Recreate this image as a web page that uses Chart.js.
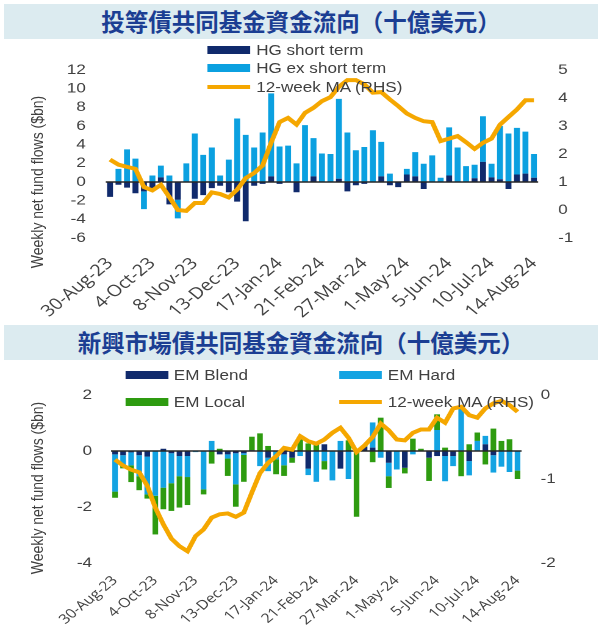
<!DOCTYPE html>
<html>
<head>
<meta charset="utf-8">
<script src="https://cdn.jsdelivr.net/npm/chart.js@4.4.1/dist/chart.umd.min.js"></script>
<style>
  body { margin: 0; background: #fff; }
  #page { position: relative; width: 602px; height: 626px; overflow: hidden; color: #404040;
          font-family: "Liberation Sans", Arial, sans-serif; }
  .band { position: absolute; left: 4px; width: 594px; height: 35px; background: #dcebf0; color: #1b3e93;
          font: bold 23.5px "Noto Sans CJK TC", sans-serif; text-align: center; line-height: 35px; }
  /* the source charts are stretched sideways, so draw narrower and scale up */
  .stretch { position: absolute; left: 0; width: 493.4px; transform: scaleX(1.22); transform-origin: 0 0; }
  .stretch canvas { position: absolute; left: 0; top: 0; }
  .ytitle { position: absolute; font-size: 14px; white-space: nowrap; transform: translate(-50%, -50%) rotate(-90deg); }
  .legend { position: absolute; font-size: 14px; }
  .legend .item { display: flex; align-items: center; }
  .legend .sw { display: inline-block; width: 35px; margin-right: 5px; }
  #legTop { left: 170px; top: 40.5px; }
  #legTop .item { height: 18.5px; }
  #legBot { left: 102.5px; top: 362px; display: grid; grid-template-columns: 175.4px 175.4px; }
  #legBot .item { height: 26.5px; }
</style>
</head>
<body>
<div id="page">
  <div class="band" style="top:4px">投等債共同基金資金流向（十億美元）</div>
  <div class="stretch" style="top:40px;height:282px">
    <canvas id="hg"></canvas>
  </div>
  <div class="stretch" style="top:0;height:330px;pointer-events:none">
    <div class="ytitle" style="left:30px;top:182px">Weekly net fund flows ($bn)</div>
    <div class="legend" id="legTop"></div>
  </div>

  <div class="band" style="top:325px">新興市場債共同基金資金流向（十億美元）</div>
  <div class="stretch" style="top:360px;height:266px">
    <canvas id="em"></canvas>
  </div>
  <div class="stretch" style="top:0;height:626px;pointer-events:none">
    <div class="ytitle" style="left:30px;top:488px">Weekly net fund flows ($bn)</div>
    <div class="legend" id="legBot"></div>
  </div>
</div>
<script>
const weeks = ["30-Aug-23","6-Sep-23","13-Sep-23","20-Sep-23","27-Sep-23","4-Oct-23","11-Oct-23","18-Oct-23",
  "25-Oct-23","1-Nov-23","8-Nov-23","15-Nov-23","22-Nov-23","29-Nov-23","6-Dec-23","13-Dec-23","20-Dec-23",
  "27-Dec-23","3-Jan-24","10-Jan-24","17-Jan-24","24-Jan-24","31-Jan-24","7-Feb-24","14-Feb-24","21-Feb-24",
  "28-Feb-24","6-Mar-24","13-Mar-24","20-Mar-24","27-Mar-24","3-Apr-24","10-Apr-24","17-Apr-24","24-Apr-24",
  "1-May-24","8-May-24","15-May-24","22-May-24","29-May-24","5-Jun-24","12-Jun-24","19-Jun-24","26-Jun-24",
  "3-Jul-24","10-Jul-24","17-Jul-24","24-Jul-24","31-Jul-24","7-Aug-24","14-Aug-24"];

// investment grade ($bn, weekly)
const hgShort = [-1.6,-0.3,-0.6,-1.2,-1.0,-0.8,0.5,-2.4,-1.9,0,-1.8,-1.4,-0.65,-0.4,-1.1,-2.1,-4.2,
  -0.4,-0.2,0.6,-0.2,0,-1.1,0,0.6,0,0,0.35,-1.0,-0.35,-0.2,0,0.6,-0.35,-0.55,0.8,0.6,-0.75,0,0,0.7,
  0,0,0.4,2.15,0.5,0.3,-0.75,0.8,0.9,0.45];
const hgExShort = [0,1.4,3.5,2.5,-1.9,0.7,1.25,0.7,-2.0,2.0,5.2,2.9,3.7,0.7,2.4,6.8,5.05,
  3.7,5.3,8.9,3.8,3.9,2.0,6.1,4.1,3.05,3.0,8.55,5.3,3.4,3.75,5.55,3.7,0.9,0,0.6,2.6,1.95,2.85,0.45,5.15,
  3.7,1.7,1.45,4.9,1.45,5.7,5.2,5.0,4.5,2.55];
const hgMA = [1.80,1.62,1.54,1.47,0.82,0.70,0.90,0.46,0.0,-0.03,0.25,0.25,0.63,0.57,0.45,0.73,1.14,
  1.32,1.59,2.40,3.14,3.29,3.05,3.47,3.65,3.89,4.03,4.40,4.64,4.64,4.49,4.19,4.21,3.95,
  3.71,3.45,3.29,3.17,3.14,2.46,2.55,2.64,2.42,2.18,2.40,2.55,3.05,3.32,3.59,3.92,3.92];

// emerging market debt ($bn, weekly)
const emBlend = [-0.12,-0.15,-0.05,-0.15,-0.2,0,0.08,-0.08,-0.18,-0.18,0,0,0,-0.12,-0.12,-0.08,-0.08,
  0.03,0,-0.24,0,-0.12,-0.24,0,-0.63,0,0.24,0,-0.63,0,0,0.15,0.12,0,-0.42,0,-0.6,0,0,-0.24,-0.18,
  -0.18,-0.18,0,-0.36,0,0.24,-0.15,0,0,0];
const emHard = [-1.33,-0.35,-0.46,-0.75,-1.35,-1.6,-1.31,-1.07,-0.72,-0.75,-0.04,-1.37,0.36,0,-0.15,-1.11,-0.06,
  0,-0.54,-0.48,-0.3,-0.39,0,-0.18,-0.23,-1.1,-0.36,-1.05,0.36,-1.0,0,0,0.9,-0.24,-0.48,-0.66,0,-0.12,0,0,0.75,
  -0.9,-0.36,1.6,-0.51,0.36,0.3,-0.62,-0.56,-0.75,-0.7];
const emLocal = [-0.22,-0.12,-0.6,-0.5,-0.15,-1.38,-0.77,-0.99,-1.12,-1.0,0,-0.18,-0.45,0.08,-0.62,-0.8,-0.96,
  0.48,0.63,0.18,-0.53,-0.38,-0.18,0.42,0.27,0.24,-0.3,0,0,0.38,-2.35,0.05,-0.4,1.19,-0.42,0,-0.2,0.44,0.08,-0.83,
  0.56,0.12,0,-0.9,0.24,0.3,-0.48,0.8,0.36,0.42,-0.3];
const emMA = [-0.77,-0.84,-0.89,-0.92,-1.08,-1.34,-1.54,-1.71,-1.80,-1.86,-1.68,-1.60,-1.46,-1.42,-1.41,-1.45,-1.40,
  -1.16,-0.93,-0.81,-0.73,-0.63,-0.65,-0.49,-0.55,-0.58,-0.53,-0.45,-0.39,-0.51,-0.68,-0.60,-0.50,-0.34,
  -0.42,-0.53,-0.54,-0.45,-0.41,-0.41,-0.27,-0.33,-0.16,-0.14,-0.24,-0.27,-0.16,-0.10,-0.07,-0.12,-0.20];

const NAVY = "#102a6c", SKY = "#0ba0e0", ORANGE = "#f5a700", GREEN = "#2e9b10";
const TEXT = "#404040";
const TICK_FONT = { family: '"Liberation Sans", Arial, sans-serif', size: 14 };

// black zero line, drawn over the bars but under the moving average
const zeroLine = {
  id: "zeroLine",
  beforeDatasetDraw(chart, args) {
    if (args.meta.type !== "line") return;
    const y = Math.round(chart.scales.y.getPixelForValue(0));
    const { left, right } = chart.chartArea;
    const c = chart.ctx;
    c.save();
    c.strokeStyle = "#262626";
    c.lineWidth = 1.6;
    c.beginPath();
    c.moveTo(left, y);
    c.lineTo(right, y);
    c.stroke();
    c.restore();
  }
};

function barSet(label, data, color) {
  return { type: "bar", label, data, backgroundColor: color, stack: "s", order: 1,
           categoryPercentage: 1, barPercentage: 0.7 };
}
function maSet(data) {
  return { type: "line", label: "12-week MA (RHS)", data, yAxisID: "y2", order: 0,
           borderColor: ORANGE, backgroundColor: ORANGE, borderWidth: 4, pointRadius: 0, tension: 0 };
}

function makeChart(id, datasets, g) {
  return new Chart(document.getElementById(id), {
    type: "bar",
    data: { labels: weeks, datasets },
    options: {
      responsive: true, maintainAspectRatio: false, animation: false, devicePixelRatio: 2,
      layout: { padding: { top: g.top, left: 0, right: 0, bottom: 0 } },
      plugins: { legend: { display: false }, tooltip: { enabled: false } },
      scales: {
        x: {
          stacked: true, grid: { display: false, drawTicks: false }, border: { display: false },
          ticks: { autoSkip: false, minRotation: 45, maxRotation: 45, padding: g.xPad, color: TEXT,
                   font: { family: '"Open Sans", sans-serif', size: g.xSize },
                   callback: (v, i) => (i % 5 === 0 ? weeks[i] : null) },
          afterFit: s => { s.height = g.xHeight; }
        },
        y: {
          stacked: true, min: g.yMin, max: g.yMax,
          ticks: { stepSize: 2, autoSkip: false, padding: g.tickPad, color: TEXT, font: TICK_FONT },
          grid: { display: false, drawTicks: false }, border: { display: false },
          afterFit: s => { s.width = g.left; }
        },
        y2: {
          position: "right", min: g.rMin, max: g.rMax,
          ticks: { stepSize: 1, autoSkip: false, padding: g.tickPad, color: TEXT, font: TICK_FONT },
          grid: { display: false, drawTicks: false }, border: { display: false },
          afterFit: s => { s.width = g.right; }
        }
      }
    },
    plugins: [zeroLine]
  });
}

function htmlLegend(chart, el) {
  chart.data.datasets.forEach(ds => {
    const item = document.createElement("div");
    item.className = "item";
    const sw = document.createElement("span");
    sw.className = "sw";
    sw.style.height = ds.type === "line" ? "4px" : "8px";
    sw.style.background = ds.type === "line" ? ds.borderColor : ds.backgroundColor;
    item.appendChild(sw);
    item.appendChild(document.createTextNode(ds.label));
    el.appendChild(item);
  });
}

const hgChart = makeChart("hg", [
  barSet("HG short term", hgShort, NAVY),
  barSet("HG ex short term", hgExShort, SKY),
  maSet(hgMA)
], { top: 30, xHeight: 84, xPad: 16, xSize: 16, left: 86.7, right: 52.3, tickPad: 16.4,
     yMin: -6, yMax: 12, rMin: -1, rMax: 5 });
htmlLegend(hgChart, document.getElementById("legTop"));

const emChart = makeChart("em", [
  barSet("EM Blend", emBlend, NAVY),
  barSet("EM Hard", emHard, "#13a3e2"),
  barSet("EM Local", emLocal, GREEN),
  maSet(emMA)
], { top: 35, xHeight: 63, xPad: 10, xSize: 13, left: 91.0, right: 65.9, tickPad: 15.6,
     yMin: -4, yMax: 2, rMin: -2, rMax: 0 });
htmlLegend(emChart, document.getElementById("legBot"));
</script>
</body>
</html>
